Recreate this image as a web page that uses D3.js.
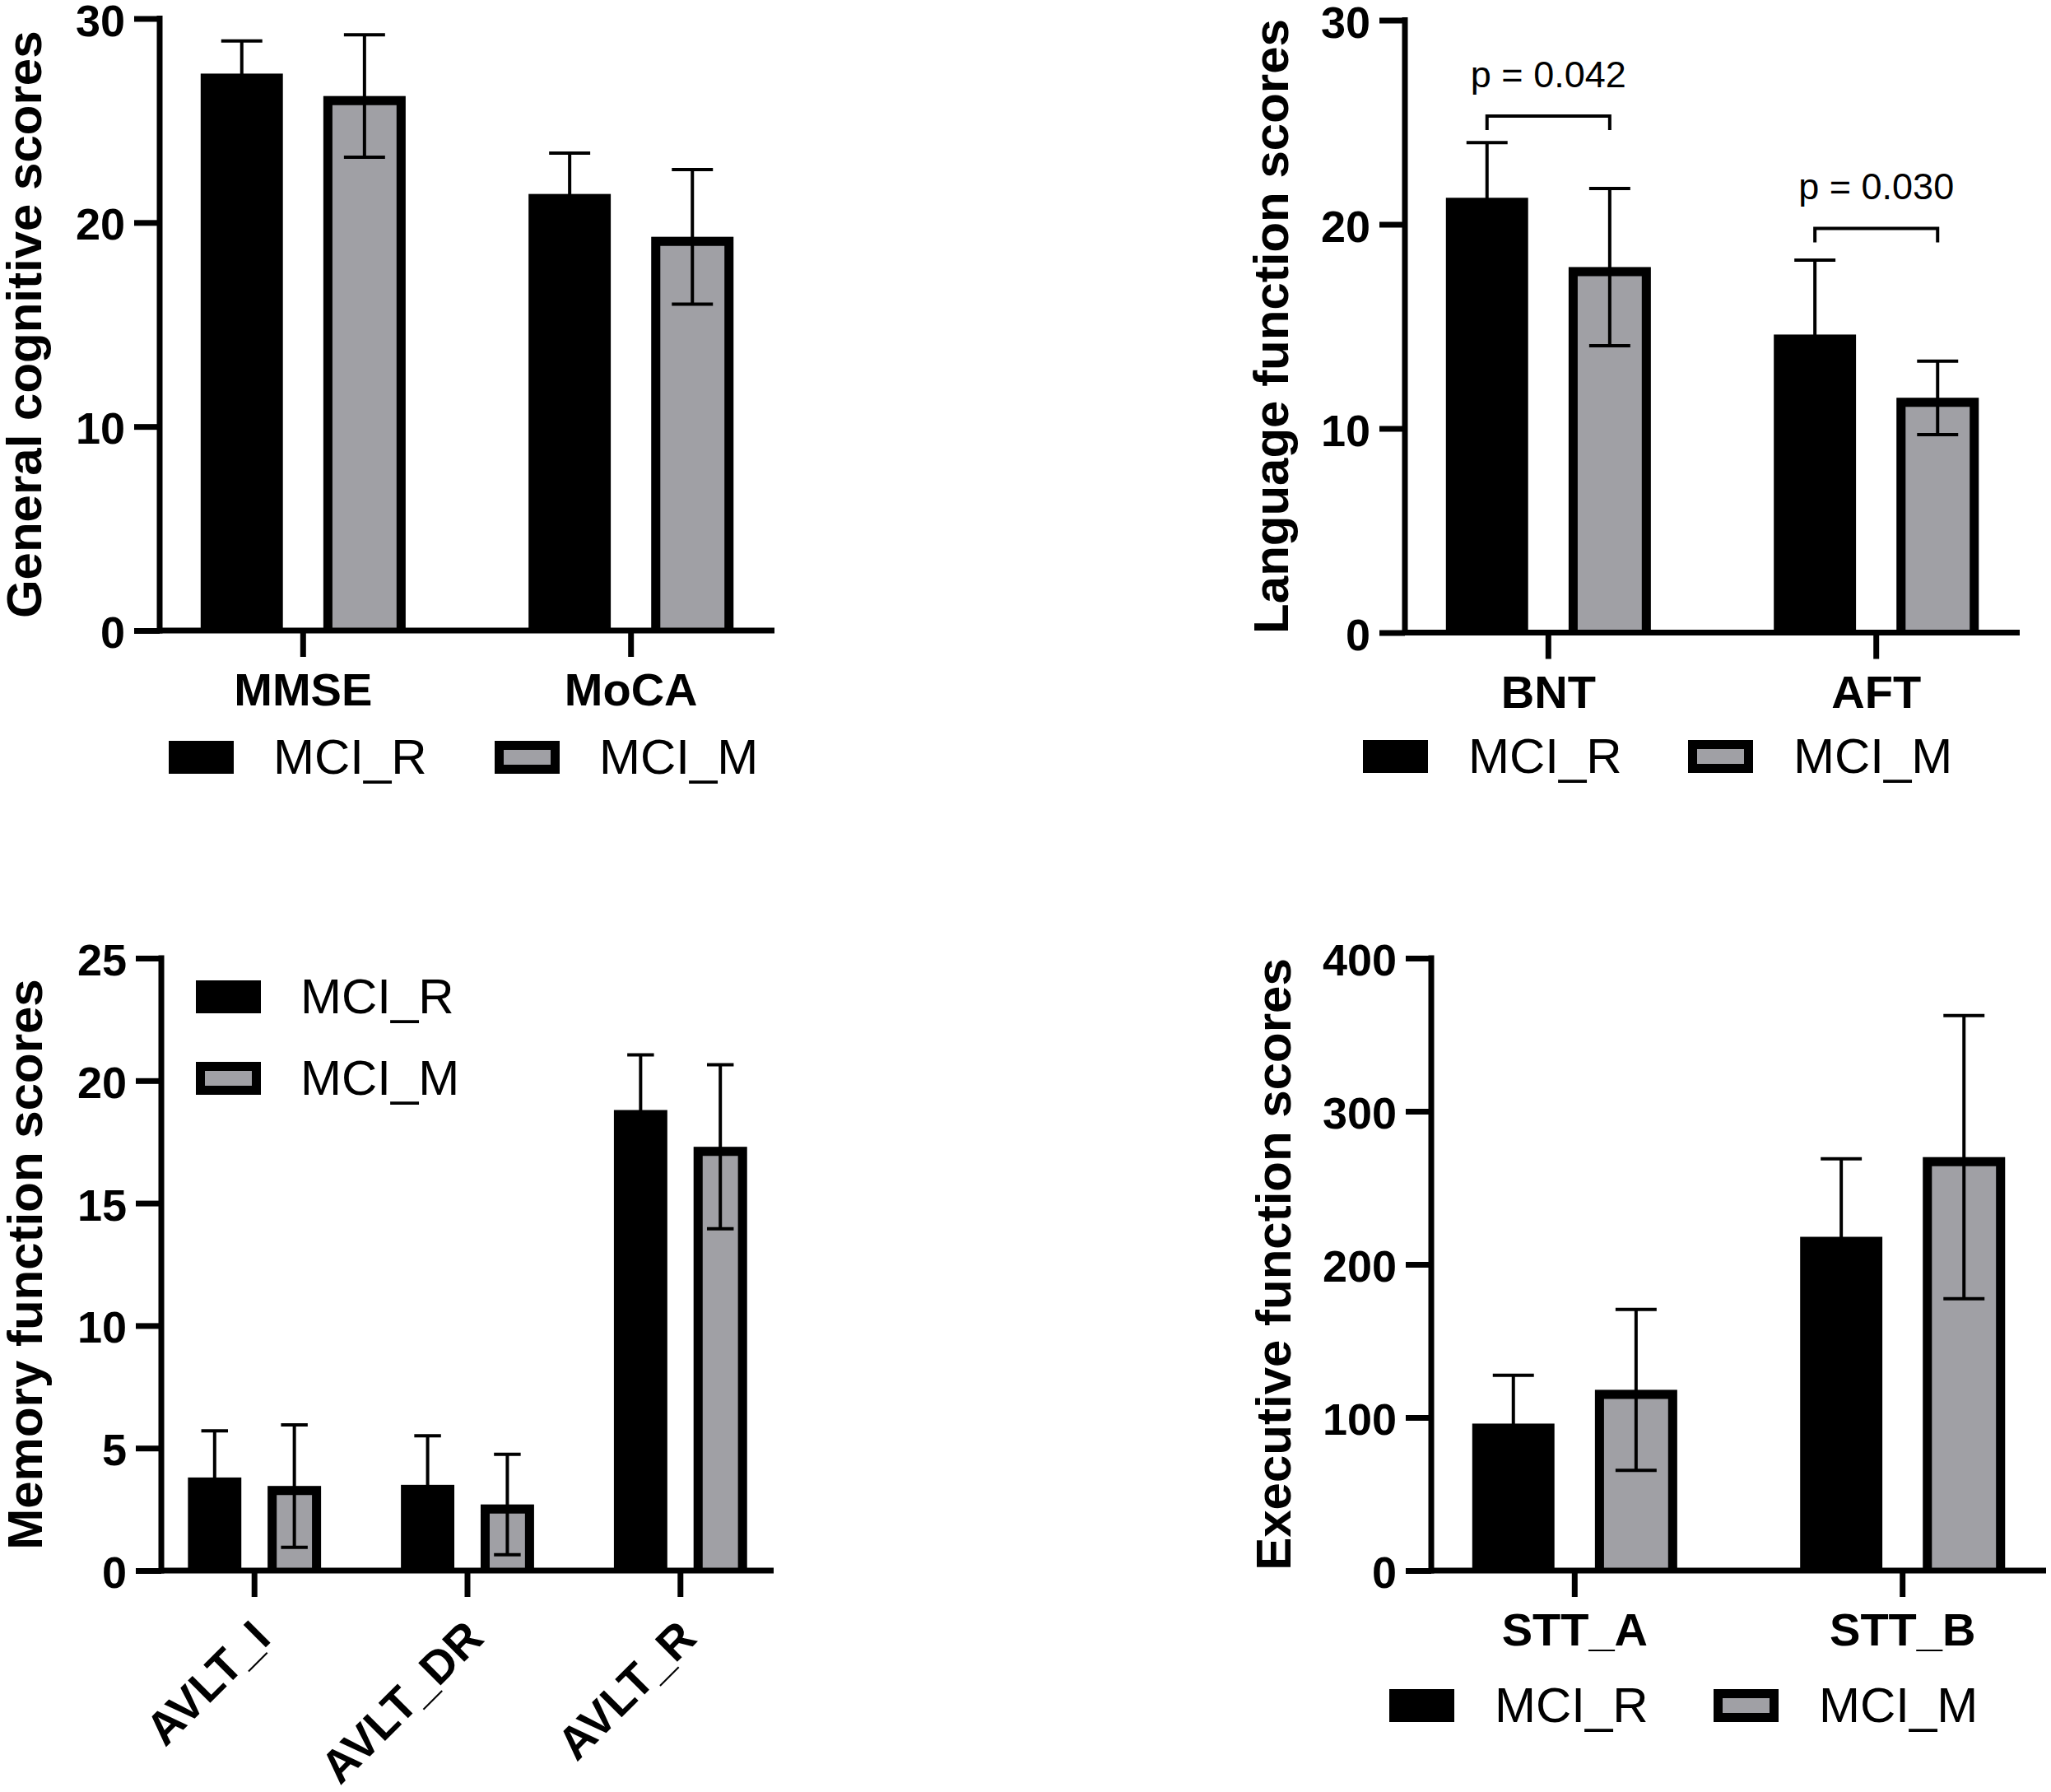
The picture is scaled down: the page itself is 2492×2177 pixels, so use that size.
<!DOCTYPE html>
<html>
<head>
<meta charset="utf-8">
<script src="https://cdn.jsdelivr.net/npm/d3@7"></script>
<style>
  body { margin: 0; background: #fff; }
  svg { display: block; }
  text { font-family: "Liberation Sans", Arial, Helvetica, sans-serif; fill: #000; }
</style>
</head>
<body>
<div id="chart"></div>
<script>
// series names
var groups = ["MCI_R", "MCI_M"];

// general cognition
var generalCats = ["MMSE", "MoCA"];
var generalR = [27.3, 21.4];
var generalRsd = [1.6, 2.0];
var generalM = [26.2, 19.3];
var generalMsd = [3.0, 3.3];
var generalTicks = [0, 10, 20, 30];

// language
var languageCats = ["BNT", "AFT"];
var languageR = [21.3, 14.6];
var languageRsd = [2.7, 3.65];
var languageM = [17.9, 11.5];
var languageMsd = [3.85, 1.8];
var languageTicks = [0, 10, 20, 30];
var languageP = ["p = 0.042", "p = 0.030"];
var languagePy = [25.3, 19.8];

// memory
var memoryCats = ["AVLT_I", "AVLT_DR", "AVLT_R"];
var memoryR = [3.8, 3.5, 18.8];
var memoryRsd = [1.9, 2.0, 2.25];
var memoryM = [3.45, 2.7, 17.3];
var memoryMsd = [2.5, 2.05, 3.35];
var memoryTicks = [0, 5, 10, 15, 20, 25];

// executive
var execCats = ["STT_A", "STT_B"];
var execR = [96, 218];
var execRsd = [31.5, 51];
var execM = [118, 270];
var execMsd = [52.5, 92.5];
var execTicks = [0, 100, 200, 300, 400];

var grey = "#a0a0a5";
var BORDER = 11;

var svg = d3.select("#chart").append("svg")
  .attr("width", 2492)
  .attr("height", 2177);

var panels = [
  { cats: generalCats, vals: [generalR, generalM], sds: [generalRsd, generalMsd], ticks: generalTicks,
    title: "General cognitive scores", left: 194, right: 941, top: 22.5, bottom: 766, titleX: 50,
    legend: [{x: 205, y: 900, tx: 332}, {x: 601, y: 900, tx: 728}] },
  { cats: languageCats, vals: [languageR, languageM], sds: [languageRsd, languageMsd], ticks: languageTicks,
    title: "Language function scores", left: 1707, right: 2454, top: 24.5, bottom: 768.5, titleX: 1565,
    legend: [{x: 1656, y: 899, tx: 1784}, {x: 2051, y: 899, tx: 2179}],
    pLabels: languageP, pY: languagePy },
  { cats: memoryCats, vals: [memoryR, memoryM], sds: [memoryRsd, memoryMsd], ticks: memoryTicks,
    title: "Memory function scores", left: 196, right: 940, top: 1164, bottom: 1908, titleX: 51,
    rotate: true,
    legend: [{x: 238, y: 1191, tx: 365}, {x: 238, y: 1290, tx: 365}] },
  { cats: execCats, vals: [execR, execM], sds: [execRsd, execMsd], ticks: execTicks,
    title: "Executive function scores", left: 1739, right: 2486, top: 1164, bottom: 1908, titleX: 1568,
    legend: [{x: 1688, y: 2052, tx: 1816}, {x: 2082, y: 2052, tx: 2210}] }
];

panels.forEach(drawPanel);

function drawPanel(p) {
  var g = svg.append("g");

  var x = d3.scaleBand()
    .domain(p.cats)
    .range([p.left, p.right])
    .paddingInner(0.375)
    .paddingOuter(0.125);

  var xs = d3.scaleBand()
    .domain(groups)
    .range([0, x.bandwidth()])
    .paddingInner(0.33);

  var y = d3.scaleLinear()
    .domain([0, d3.max(p.ticks)])
    .range([p.bottom, p.top]);

  var rows = [];
  p.cats.forEach(function(c, i) {
    groups.forEach(function(s, k) {
      rows.push({cat: c, grp: s, k: k, v: p.vals[k][i], sd: p.sds[k][i]});
    });
  });

  var bw = xs.bandwidth();

  // bars
  rows.forEach(function(d) {
    var bx = x(d.cat) + xs(d.grp);
    var by = y(d.v);
    if (d.k == 0) {
      g.append("rect")
        .attr("x", bx).attr("y", by)
        .attr("width", bw).attr("height", y(0) - by)
        .attr("fill", "#000");
    } else {
      g.append("rect")
        .attr("x", bx).attr("y", by)
        .attr("width", bw).attr("height", y(0) - by)
        .attr("fill", grey);
      var h = BORDER / 2;
      g.append("path")
        .attr("d", "M" + (bx + h) + "," + y(0) + "V" + (by + h) + "H" + (bx + bw - h) + "V" + y(0))
        .attr("fill", "none")
        .attr("stroke", "#000")
        .attr("stroke-width", BORDER);
    }
  });

  // error bars (mean +/- SD)
  rows.forEach(function(d) {
    var cx = x(d.cat) + xs(d.grp) + bw / 2;
    var cap = bw / 4;
    var y1 = y(d.v + d.sd), y2 = y(d.v - d.sd);
    g.append("line").attr("x1", cx).attr("x2", cx).attr("y1", y1).attr("y2", y2)
      .attr("stroke", "#000").attr("stroke-width", 4);
    [y1, y2].forEach(function(yy) {
      g.append("line").attr("x1", cx - cap).attr("x2", cx + cap).attr("y1", yy).attr("y2", yy)
        .attr("stroke", "#000").attr("stroke-width", 4);
    });
  });

  // y axis
  var ya = g.append("g")
    .attr("transform", "translate(" + p.left + ",0)")
    .call(d3.axisLeft(y).tickValues(p.ticks).tickSize(31).tickSizeOuter(0).tickPadding(11));
  ya.select(".domain").remove();
  ya.selectAll(".tick line").attr("stroke", "#000").attr("stroke-width", 7);
  ya.selectAll(".tick text")
    .attr("dy", "0.38em")
    .style("font-size", "54px")
    .style("font-weight", "bold")
    .attr("fill", "#000");
  g.append("line")
    .attr("x1", p.left).attr("x2", p.left)
    .attr("y1", y(0)).attr("y2", p.top)
    .attr("stroke", "#000").attr("stroke-width", 7)
    .attr("stroke-linecap", "square");

  // x axis
  var xa = g.append("g")
    .attr("transform", "translate(0," + p.bottom + ")")
    .call(d3.axisBottom(x).tickSize(32).tickSizeOuter(0));
  xa.select(".domain").remove();
  xa.selectAll(".tick line").attr("stroke", "#000").attr("stroke-width", 7);
  var xt = xa.selectAll(".tick text")
    .style("font-size", "56px")
    .style("font-weight", "bold")
    .attr("fill", "#000");
  if (p.rotate) {
    xt.attr("y", 0).attr("dy", 0)
      .attr("text-anchor", "end")
      .attr("transform", "translate(22,85) rotate(-45)");
  } else {
    xt.attr("y", 91).attr("dy", 0);
  }
  g.append("line")
    .attr("x1", p.left).attr("x2", p.right)
    .attr("y1", p.bottom).attr("y2", p.bottom)
    .attr("stroke", "#000").attr("stroke-width", 7);

  // y title
  g.append("text")
    .attr("transform", "translate(" + p.titleX + "," + ((p.top + p.bottom) / 2) + ") rotate(-90)")
    .attr("text-anchor", "middle")
    .style("font-size", "60px")
    .style("font-weight", "bold")
    .text(p.title);

  // significance brackets
  if (p.pLabels) {
    p.cats.forEach(function(c, i) {
      var xa1 = x(c) + xs(groups[0]) + bw / 2;
      var xa2 = x(c) + xs(groups[1]) + bw / 2;
      var yb = y(p.pY[i]);
      g.append("path")
        .attr("d", "M" + xa1 + "," + (yb + 17) + "V" + yb + "H" + xa2 + "V" + (yb + 17))
        .attr("fill", "none").attr("stroke", "#000").attr("stroke-width", 4);
      g.append("text")
        .attr("x", x(c) + x.bandwidth() / 2)
        .attr("y", yb - 35)
        .attr("text-anchor", "middle")
        .style("font-size", "45px")
        .text(p.pLabels[i]);
    });
  }

  // legend
  p.legend.forEach(function(l, k) {
    if (k == 0) {
      g.append("rect").attr("x", l.x).attr("y", l.y).attr("width", 79).attr("height", 40).attr("fill", "#000");
    } else {
      g.append("rect")
        .attr("x", l.x + BORDER / 2).attr("y", l.y + BORDER / 2)
        .attr("width", 79 - BORDER).attr("height", 40 - BORDER)
        .attr("fill", grey).attr("stroke", "#000").attr("stroke-width", BORDER);
    }
    g.append("text")
      .attr("x", l.tx).attr("y", l.y + 40)
      .style("font-size", "60px")
      .text(groups[k]);
  });
}
</script>
</body>
</html>
